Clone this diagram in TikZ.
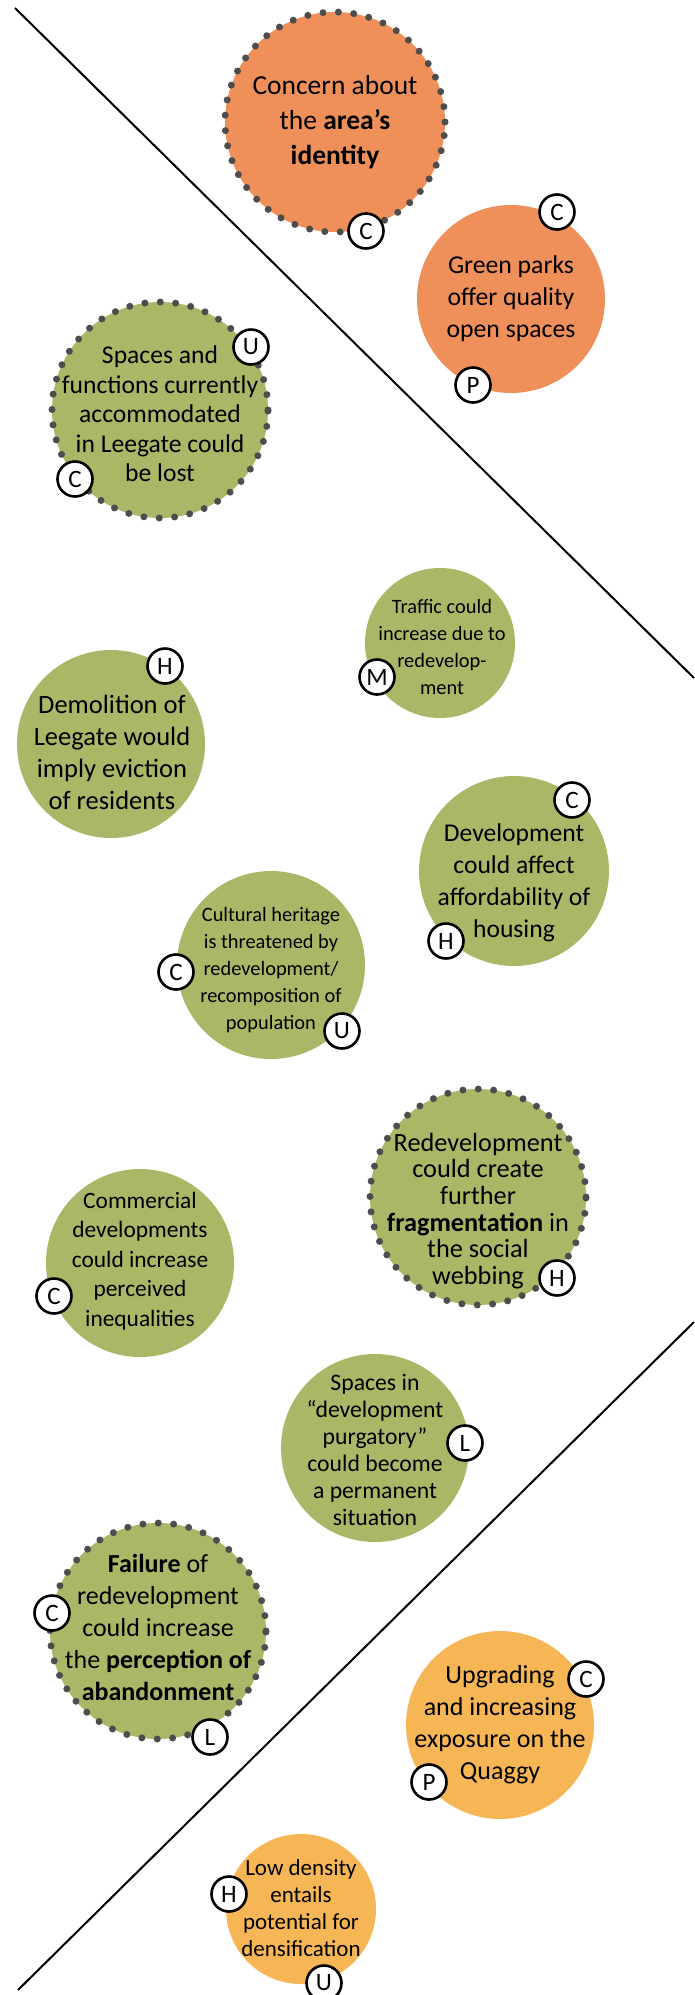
\documentclass[tikz,border=0pt]{standalone}
\usepackage{fontspec}
\setmainfont{Carlito}
\definecolor{orA}{HTML}{EF8F5A}
\definecolor{grn}{HTML}{ABB766}
\definecolor{orB}{HTML}{F6B655}
\definecolor{dotc}{HTML}{4D4D4D}
\begin{document}
\begin{tikzpicture}[x=1pt,y=-1pt,
  bub/.style={circle,inner sep=0pt,minimum size=#1},
  dotted border/.style={draw=dotc,line width=7pt,dash pattern=on 0pt off 15.4pt,line cap=round},
  badge/.style={circle,draw=black,line width=2.6pt,fill=white,inner sep=0pt,minimum size=35pt,font=\fontsize{25}{25}\selectfont},
  txt/.style 2 args={align=center,inner sep=0pt,font=\fontsize{#1}{#2}\selectfont},
  divider/.style={draw=black,line width=2pt}]
\useasboundingbox (0,0) rectangle (694,1995);
% dividers
\coordinate (l1a) at (15,8);
\coordinate (l1b) at (694,678);
\coordinate (l2a) at (18,1990);
\coordinate (l2b) at (694,1322);
\draw[divider] (l1a) -- (l1b);
\draw[divider] (l2a) -- (l2b);
% bubbles
\node[bub=220pt,fill=orA,dotted border] (b1) at (335,122) {};
\node[bub=188pt,fill=orA] (b2) at (511,299) {};
\node[bub=216pt,fill=grn,dotted border] (b3) at (160,410) {};
\node[bub=150pt,fill=grn] (b4) at (440,643) {};
\node[bub=188pt,fill=grn] (b5) at (111,744) {};
\node[bub=190pt,fill=grn] (b6) at (514,871) {};
\node[bub=188pt,fill=grn] (b7) at (271,965) {};
\node[bub=216pt,fill=grn,dotted border] (b8) at (478,1197) {};
\node[bub=188pt,fill=grn] (b9) at (140,1263) {};
\node[bub=188pt,fill=grn] (b10) at (375,1448) {};
\node[bub=216pt,fill=grn,dotted border] (b11) at (158,1631) {};
\node[bub=188pt,fill=orB] (b12) at (500,1725) {};
\node[bub=150pt,fill=orB] (b13) at (301,1909) {};
% texts
\node[txt={27.5}{35}] (t1) at (335,122) {Concern about\\the \textbf{area’s}\\\textbf{identity}};
\node[txt={25.7}{32}] (t2) at (511,299) {Green parks\\offer quality\\open spaces};
\node[txt={25.6}{29.5}] (t3) at (160,414) {Spaces and\\functions currently\\accommodated\\in Leegate could\\be lost};
\node[txt={20.4}{27}] (t4) at (442,647) {Traffic could\\increase due to\\redevelop-\\ment};
\node[txt={26.5}{32}] (t5) at (112,752) {Demolition of\\Leegate would\\imply eviction\\of residents};
\node[txt={25.6}{32}] (t6) at (514,883) {Development\\could affect\\affordability of\\housing};
\node[txt={20.4}{27}] (t7) at (271,970) {Cultural heritage\\is threatened by\\redevelopment/\\recomposition of\\population};
\node[txt={26.3}{26.7}] (t8) at (478,1211) {Redevelopment\\could create\\further\\\textbf{fragmentation} in\\the social\\webbing};
\node[txt={23.4}{29.5}] (t9) at (140,1261) {Commercial\\developments\\could increase\\perceived\\inequalities};
\node[txt={23.7}{27}] (t10) at (375,1450) {Spaces in\\“development\\purgatory”\\could become\\a permanent\\situation};
\node[txt={26}{32}] (t11) at (158,1627) {\textbf{Failure} of\\redevelopment\\could increase\\the \textbf{perception of}\\\textbf{abandonment}};
\node[txt={26}{32}] (t12) at (500,1725) {Upgrading\\and increasing\\exposure on the\\Quaggy};
\node[txt={23}{27}] (t13) at (301,1908) {Low density\\entails\\potential for\\densification};
% badges
\node[badge] (c1) at (366,231) {C};
\node[badge] (c2a) at (557,212) {C};
\node[badge] (c2b) at (473,385) {P};
\node[badge] (c3a) at (251,347) {U};
\node[badge] (c3b) at (75,479) {C};
\node[badge] (c4) at (377,677) {M};
\node[badge] (c5) at (165,666) {H};
\node[badge] (c6a) at (572,800) {C};
\node[badge] (c6b) at (446,941) {H};
\node[badge] (c7a) at (176,972) {C};
\node[badge] (c7b) at (342,1031) {U};
\node[badge] (c8) at (557,1278) {H};
\node[badge] (c9) at (54,1296) {C};
\node[badge] (c10) at (465,1443) {L};
\node[badge] (c11a) at (52,1613) {C};
\node[badge] (c11b) at (210,1737) {L};
\node[badge] (c12a) at (586,1679) {C};
\node[badge] (c12b) at (429,1782) {P};
\node[badge] (c13a) at (229,1894) {H};
\node[badge] (c13b) at (324,1983) {U};
\end{tikzpicture}
\end{document}
